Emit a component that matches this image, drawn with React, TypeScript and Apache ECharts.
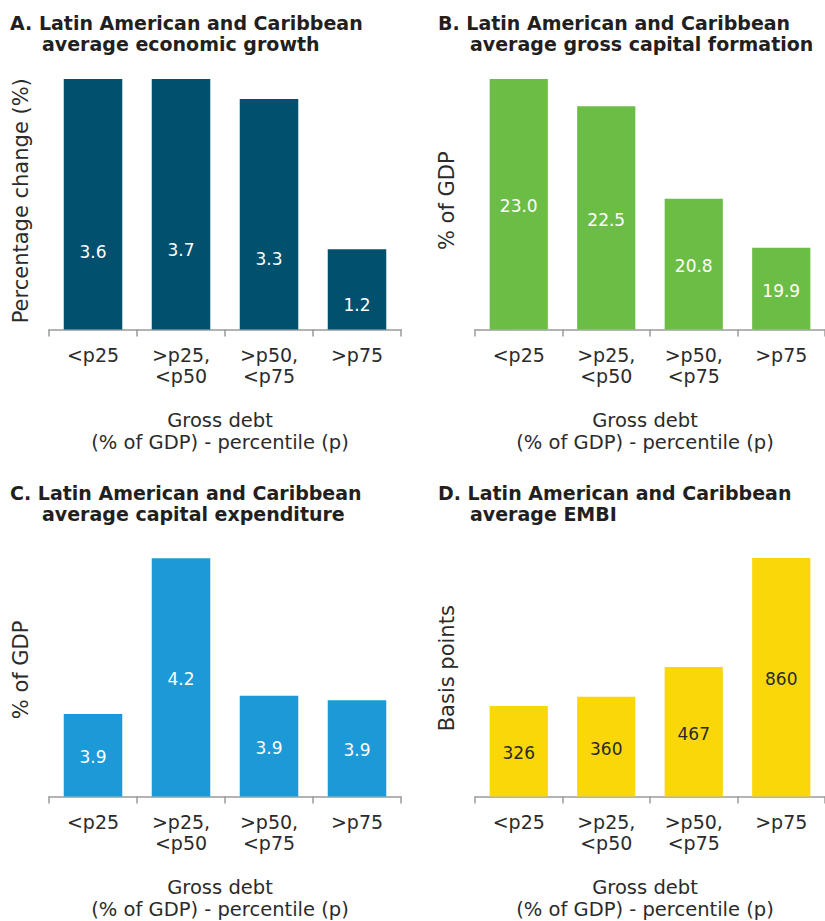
import React, { useEffect, useRef } from "react";
import * as echarts from "echarts";

const categories = ["<p25", ">p25,\n<p50", ">p50,\n<p75", ">p75"];
const growthValues = [3.6, 3.7, 3.3, 1.2];
const capitalFormationValues = [23.0, 22.5, 20.8, 19.9];
const capitalExpenditureValues = [3.86, 4.2, 3.9, 3.89];
const embiValues = [326, 360, 467, 860];

const titlesLine1 = [
  "A. Latin American and Caribbean",
  "B. Latin American and Caribbean",
  "C. Latin American and Caribbean",
  "D. Latin American and Caribbean",
];
const titlesLine2 = [
  "average economic growth",
  "average gross capital formation",
  "average capital expenditure",
  "average EMBI",
];
const yNames = ["Percentage change (%)", "% of GDP", "% of GDP", "Basis points"];
const xName = "Gross debt\n(% of GDP) - percentile (p)";

const colors = ["#00506E", "#6CBD45", "#1B9AD7", "#F9D709"];
const labelColors = ["#ffffff", "#ffffff", "#ffffff", "#2a2a2a"];

const FONT = "DejaVu Sans";

export default function App() {
  const ref = useRef<HTMLDivElement>(null);
  useEffect(() => {
    if (!ref.current) return;
    const chart = echarts.init(ref.current, null, { renderer: "svg" });

    const grids = [
      { left: 49, top: 79, width: 352, height: 250.5 },
      { left: 475, top: 79, width: 352.6, height: 250.5 },
      { left: 49, top: 558.3, width: 352, height: 241.2 },
      { left: 475, top: 558, width: 352.6, height: 241.5 },
    ];
    const ranges = [
      { min: 0.08, max: 3.58 },
      { min: 18.4, max: 23.0 },
      { min: 3.68, max: 4.2 },
      { min: 0, max: 860 },
    ];
    const yPads = [7, 7, 15, 18];
    const dataSets = [growthValues, capitalFormationValues, capitalExpenditureValues, embiValues];

    const titleLeft = [10, 438, 10, 438];
    const titleTop = [12, 12, 482, 482];
    const title: any[] = [];
    for (let i = 0; i < 4; i++) {
      const ts = { fontFamily: FONT, fontWeight: "bold", fontSize: 19, color: "#231f20", lineHeight: 21 };
      title.push({ text: titlesLine1[i], left: titleLeft[i], top: titleTop[i], padding: 0, textStyle: ts });
      title.push({ text: titlesLine2[i], left: titleLeft[i] + 32, top: titleTop[i] + 21, padding: 0, textStyle: ts });
    }

    const xAxis: any[] = grids.map((_, i) => ({
      type: "category",
      gridIndex: i,
      data: categories,
      axisLine: { show: true, lineStyle: { color: "#9b9b9b", width: 1.5 } },
      axisTick: { show: true, length: 7, lineStyle: { color: "#9b9b9b", width: 1.5 } },
      axisLabel: {
        interval: 0,
        margin: 15,
        fontFamily: FONT,
        fontSize: 19,
        lineHeight: 21,
        color: "#2b2b2b",
      },
      name: xName,
      nameLocation: "middle",
      nameGap: 79.5,
      nameTextStyle: {
        fontFamily: FONT,
        fontSize: 19.5,
        lineHeight: 22,
        color: "#2b2b2b",
        padding: [0, 10, 0, 0],
      },
    }));
    xAxis.push({ type: "category", gridIndex: 0, data: categories, show: false });

    const yAxis: any[] = grids.map((_, i) => ({
      type: "value",
      gridIndex: i,
      min: ranges[i].min,
      max: ranges[i].max,
      axisLine: { show: false },
      axisTick: { show: false },
      axisLabel: { show: false },
      splitLine: { show: false },
      name: yNames[i],
      nameLocation: "middle",
      nameGap: 18,
      nameTextStyle: {
        fontFamily: FONT,
        fontSize: 21,
        color: "#2b2b2b",
        padding: [0, 0, 0, yPads[i]],
      },
    }));
    yAxis.push({ type: "value", gridIndex: 0, min: 0, max: 5.69, show: false });

    const series: any[] = dataSets.map((d, i) => ({
      type: "bar",
      xAxisIndex: i,
      yAxisIndex: i,
      data: d,
      barWidth: "66.5%",
      clip: true,
      itemStyle: { color: colors[i] },
      label: {
        show: i !== 0,
        position: "inside",
        offset: [0, 2],
        fontFamily: FONT,
        fontSize: 17,
        color: labelColors[i],
        formatter: (p: any) => (i === 3 ? String(p.value) : Number(p.value).toFixed(1)),
      },
      silent: true,
    }));
    series.push({
      type: "bar",
      xAxisIndex: 4,
      yAxisIndex: 4,
      data: growthValues,
      barWidth: "66.5%",
      itemStyle: { color: "rgba(0,0,0,0)" },
      label: {
        show: true,
        position: "inside",
        offset: [0, 2],
        fontFamily: FONT,
        fontSize: 17,
        color: "#ffffff",
        formatter: (p: any) => Number(p.value).toFixed(1),
      },
      silent: true,
    });

    chart.setOption({
      animation: false,
      backgroundColor: "#ffffff",
      title,
      grid: grids,
      xAxis,
      yAxis,
      series,
    });
    return () => chart.dispose();
  }, []);
  return (
    <div
      ref={ref}
      style={{ position: "absolute", left: 0, top: 0, width: 825, height: 921 }}
    />
  );
}
